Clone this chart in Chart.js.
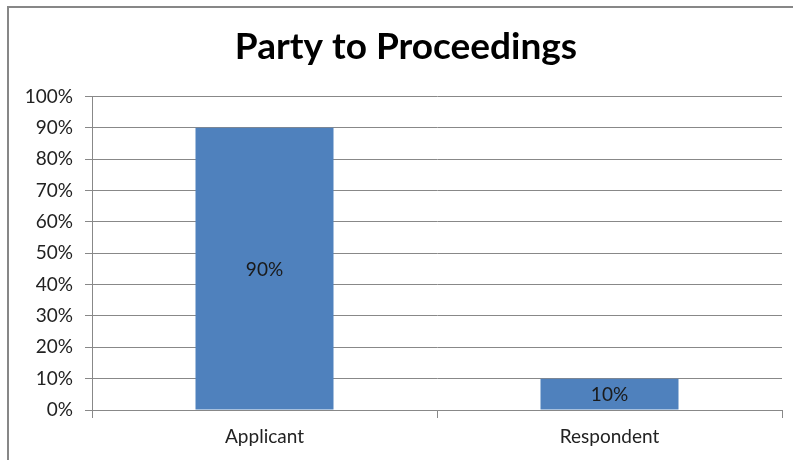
<!DOCTYPE html>
<html>
<head>
<meta charset="utf-8">
<script src="https://cdn.jsdelivr.net/npm/chart.js@4"></script>
<style>
  body { margin: 0; background: #fff; }
  canvas { display: block; }
</style>
</head>
<body>
<canvas id="myChart" width="793" height="460"></canvas>
<script>
const categories = ['Applicant', 'Respondent']
const shares = [90, 10]
const yTicks = [0, 10, 20, 30, 40, 50, 60, 70, 80, 90, 100]

const font = 'Lato, "Open Sans", sans-serif'

// grey frame of the chart box (only top and left edges show)
const frame = {
    id: 'frame',
    afterLayout(chart) {
        // the title sits a bit right of the canvas centre in the original
        if (chart.titleBlock) chart.titleBlock.left += 30
    },
    beforeDraw(chart) {
        const c = chart.ctx
        c.save()
        c.fillStyle = '#fff'
        c.fillRect(0, 0, chart.width, chart.height)
        c.strokeStyle = '#878787'
        c.lineWidth = 2
        c.beginPath()
        c.moveTo(8, chart.height)
        c.lineTo(8, 7)
        c.lineTo(chart.width, 7)
        c.stroke()
        c.restore()
    },
}

// value labels in the middle of each bar
const barLabels = {
    id: 'barLabels',
    afterDatasetsDraw(chart) {
        const c = chart.ctx
        const meta = chart.getDatasetMeta(0)
        c.save()
        c.font = '19px ' + font
        c.fillStyle = '#1a1a1a'
        c.textAlign = 'center'
        c.textBaseline = 'middle'
        meta.data.forEach((bar, i) => {
            const mid = (bar.y + bar.base) / 2
            c.fillText(shares[i] + '%', bar.x, mid + 1)
        })
        c.restore()
    },
}

new Chart(document.getElementById('myChart'), {
    type: 'bar',
    data: {
        labels: categories,
        datasets: [
            {
                data: shares,
                backgroundColor: '#4F81BD',
                categoryPercentage: 1,
                barPercentage: 0.4,
            },
        ],
    },
    options: {
        responsive: false,
        animation: false,
        layout: { padding: { left: 0, right: 11, top: 0, bottom: 0 } },
        plugins: {
            legend: { display: false },
            tooltip: { enabled: false },
            title: {
                display: true,
                text: 'Party to Proceedings',
                color: '#000',
                font: { family: font, size: 37, weight: 'bold' },
                padding: { top: 25, bottom: 27 },
            },
        },
        scales: {
            x: {
                grid: { drawOnChartArea: false, drawTicks: true, tickLength: 8, color: '#888' },
                border: { color: '#888' },
                ticks: { color: '#222', font: { family: font, size: 19 }, padding: 7 },
                afterFit(s) { s.height = 50 },
            },
            y: {
                min: 0,
                max: 100,
                afterBuildTicks(s) { s.ticks = yTicks.map(v => ({ value: v })) },
                grid: { color: '#888', tickLength: 7 },
                border: { color: '#888' },
                ticks: {
                    color: '#222',
                    font: { family: font, size: 19 },
                    padding: 12,
                    callback: v => v + '%',
                },
                afterFit(s) { s.width = 92 },
            },
        },
    },
    plugins: [frame, barLabels],
})
</script>
</body>
</html>
